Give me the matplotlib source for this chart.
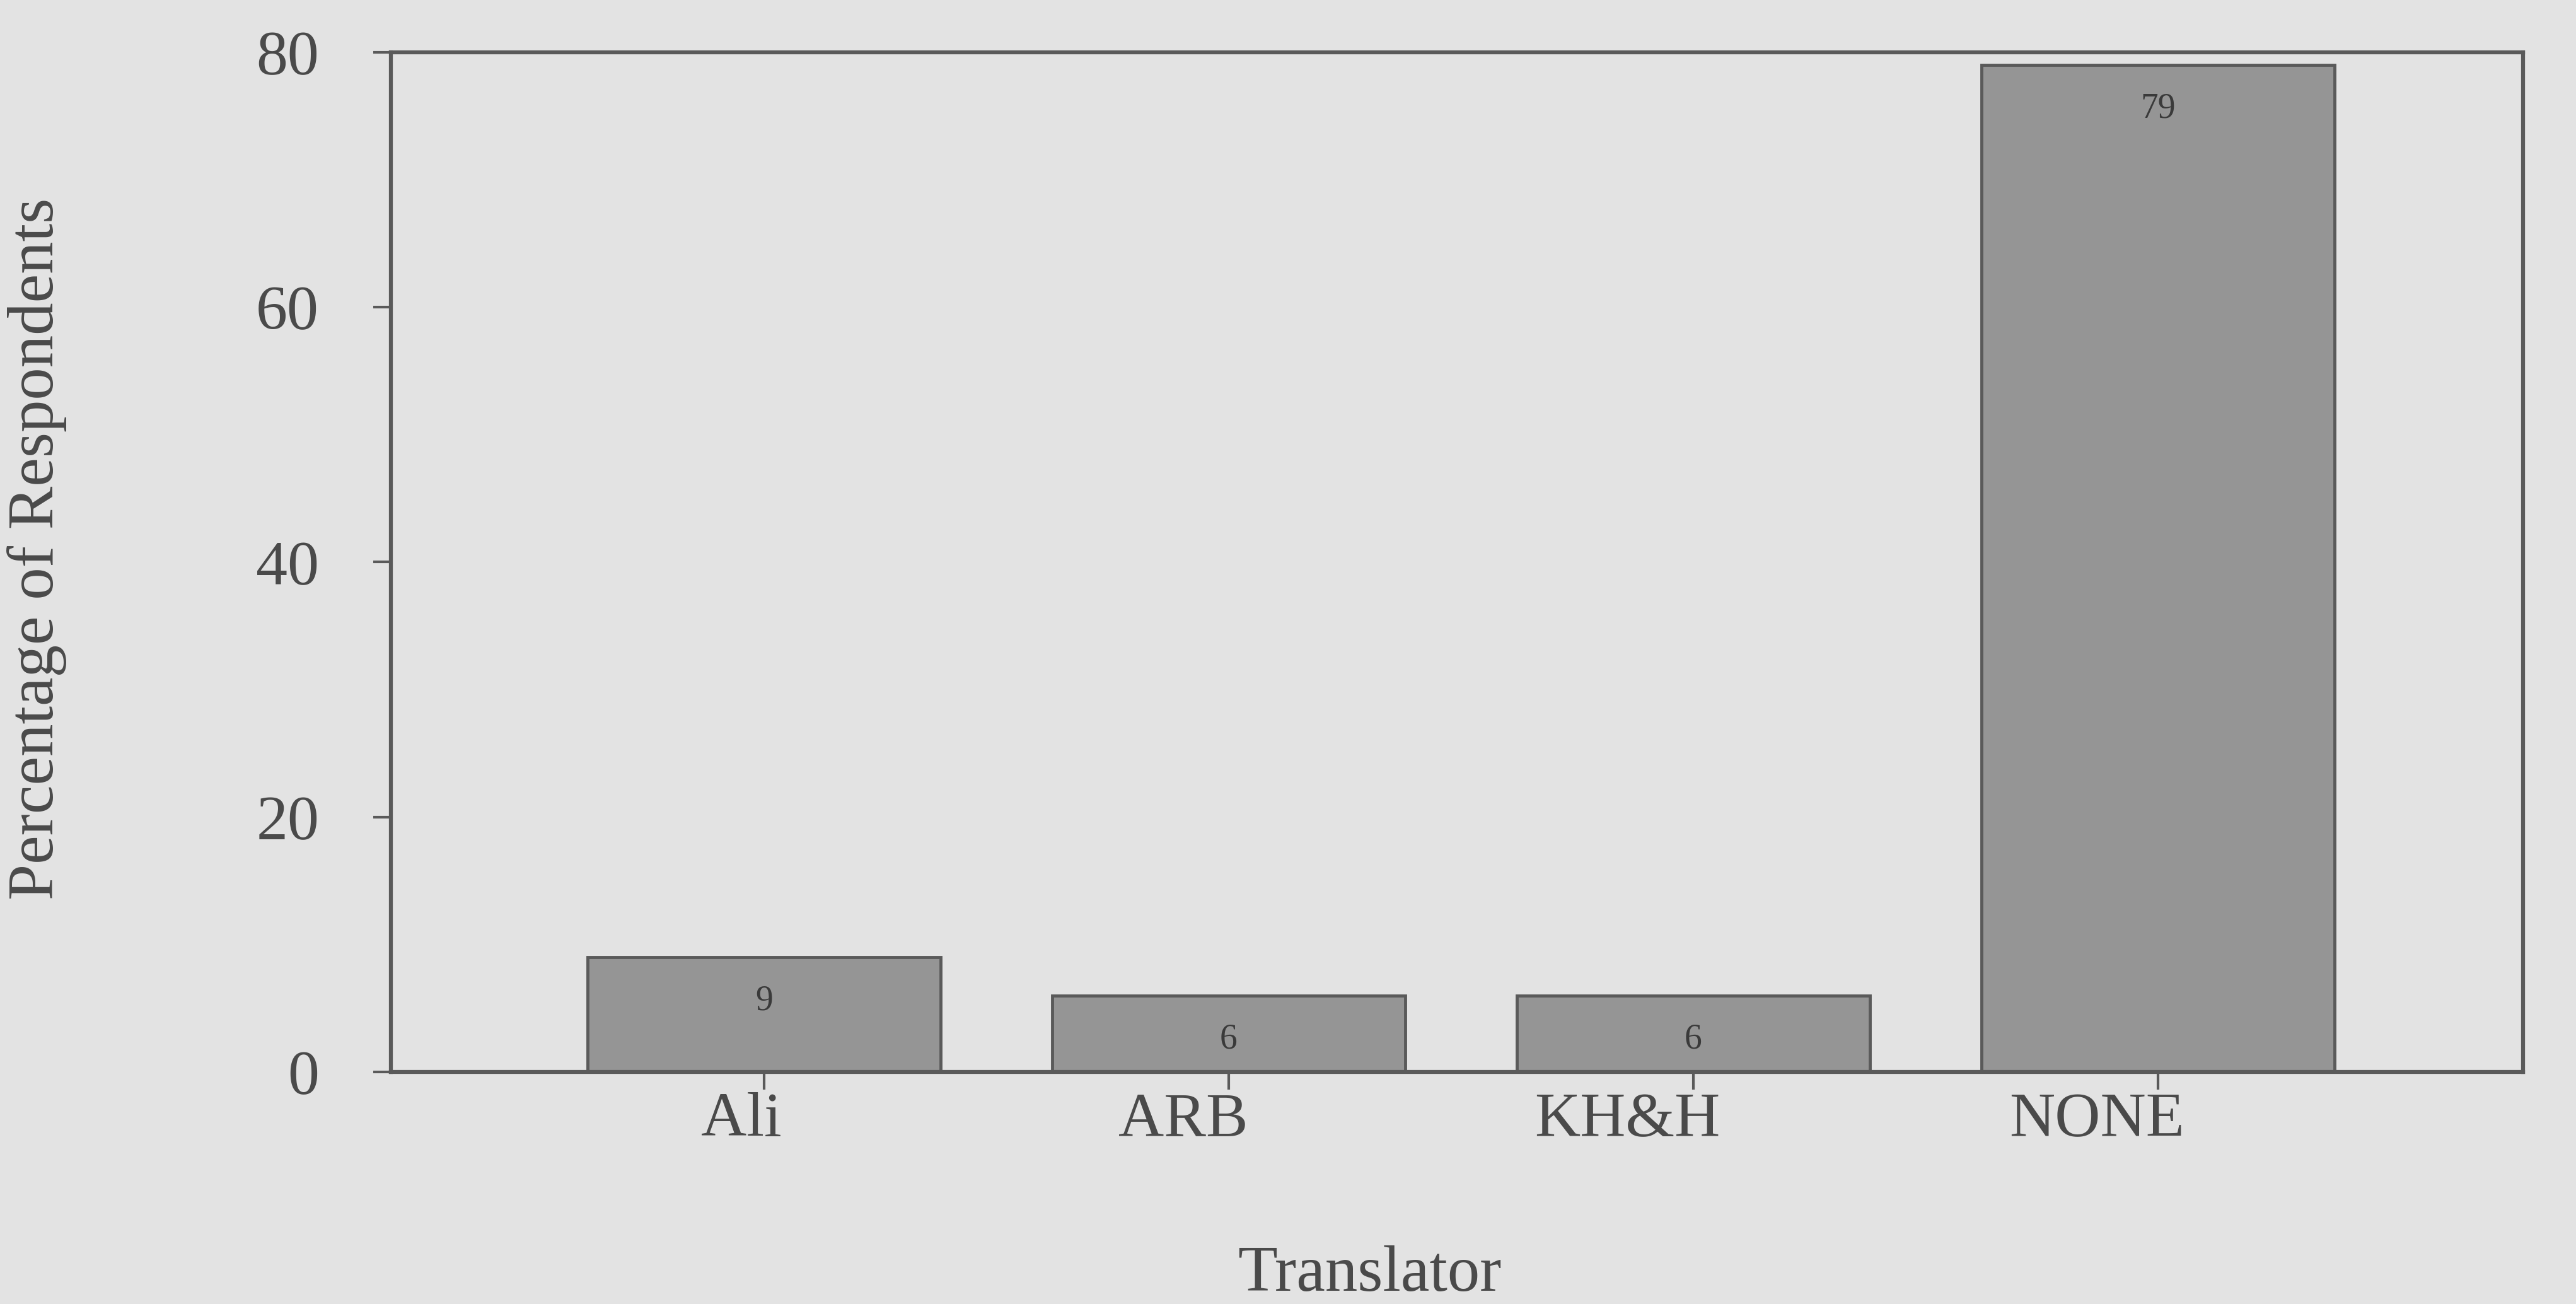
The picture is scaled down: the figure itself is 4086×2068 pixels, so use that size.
import matplotlib
matplotlib.use("Agg")
import matplotlib.pyplot as plt
from matplotlib.transforms import ScaledTranslation

categories = ["Ali", "ARB", "KH&H", "NONE"]
values = [9, 6, 6, 79]
value_labels = ["9", "6", "6", "79"]
yticks = [0, 20, 40, 60, 80]

# horizontal shift (pixels) of each category label relative to its tick, as in the scan
label_shift_px = [-36, -72, -104, -97]

plt.rcParams['font.family'] = ['Liberation Serif', 'DejaVu Serif']

bg = "#e3e3e3"
text_c = "#4a4a4a"
edge_c = "#5a5a5a"
DPI = 100

fig = plt.figure(figsize=(40.87, 20.68), dpi=DPI, facecolor=bg)
ax = fig.add_axes([0.1517, 0.178, 0.8275, 0.782], facecolor=bg)

x = list(range(len(categories)))
ax.bar(x, values, width=0.76, color="#959595", edgecolor=edge_c, linewidth=3.5)

for xi, v, lab in zip(x, values, value_labels):
    ax.annotate(lab, (xi, v), xytext=(0, -50), textcoords="offset points",
                ha="center", va="center", fontsize=40, color="#3a3a3a")

ax.set_xlim(-0.803, 3.786)
ax.set_ylim(0, 80)
ax.set_yticks(yticks)
ax.set_xticks(x)
ax.set_xticklabels([])

for s in ax.spines.values():
    s.set_color(edge_c)
    s.set_linewidth(4.5)

ax.tick_params(axis="both", colors=edge_c, labelcolor=text_c, labelsize=72,
               width=3, length=20, direction="out")
ax.tick_params(axis="y", pad=62)

# category labels (below each tick, shifted like the original)
for xi, cat, dx in zip(x, categories, label_shift_px):
    tr = ax.get_xaxis_transform() + ScaledTranslation(dx / DPI, 0, fig.dpi_scale_trans)
    ax.text(xi, -0.02, cat, transform=tr, ha="center", va="top",
            fontsize=72, color=text_c)

ax.set_ylabel("Percentage of Respondents", fontsize=74, color=text_c)
ax.yaxis.set_label_coords(-0.152, 0.513)
ax.set_xlabel("Translator", fontsize=74, color=text_c)
ax.xaxis.set_label_coords(0.459, -0.170)
ax.xaxis.label.set_va("top")

fig.savefig("out.png", dpi=DPI, facecolor=bg)
